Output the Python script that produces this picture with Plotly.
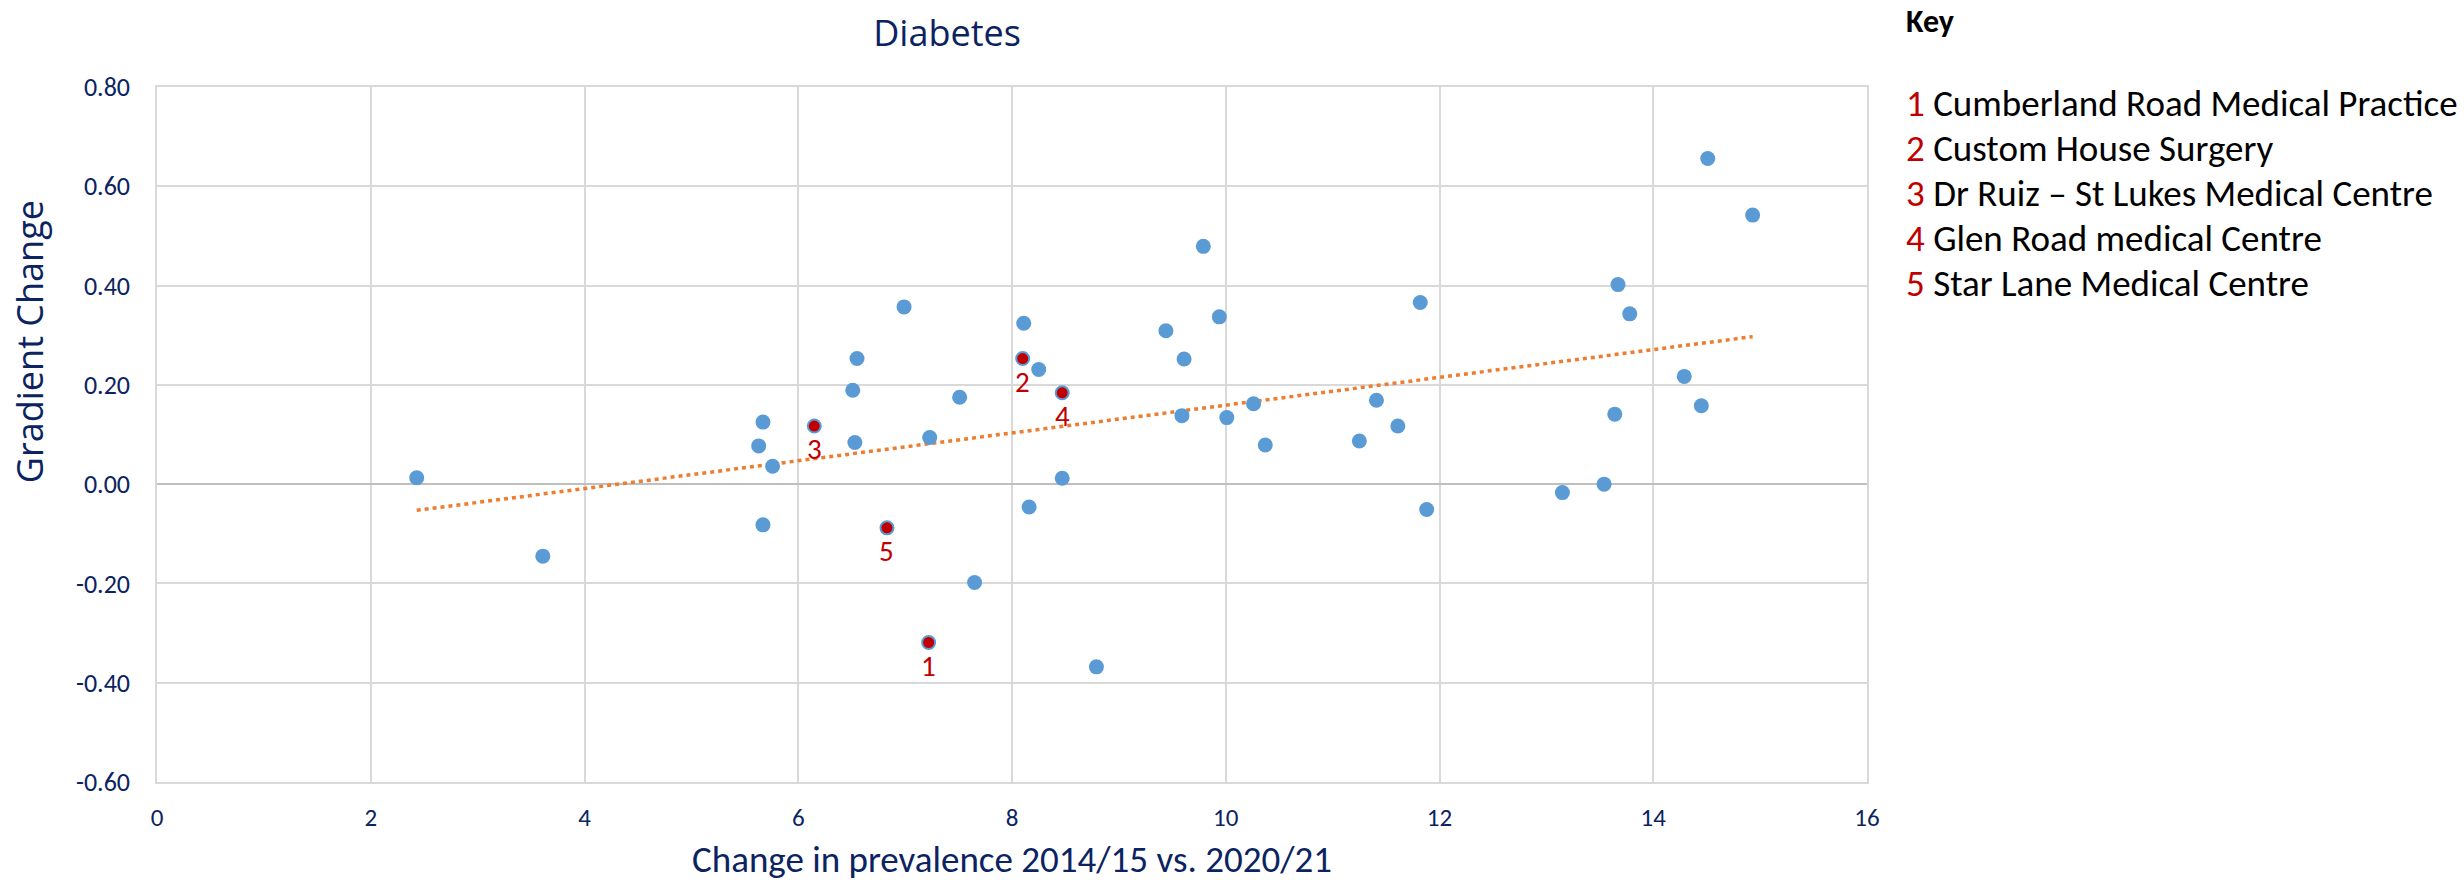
import numpy as np
import plotly.graph_objects as go

# ---------------- data ----------------
blue_x = [2.43, 3.61, 5.63, 5.76, 5.67, 5.67, 6.53, 6.55, 6.51, 6.99,
          8.11, 8.25, 7.51, 7.23, 9.44, 9.79, 9.94, 9.61, 9.59, 10.01,
          10.26, 10.37, 11.25, 11.41, 11.61, 11.82, 13.67, 13.78, 14.51, 14.93,
          14.29, 14.45, 13.64, 8.47, 8.16, 7.65, 8.79, 11.88, 13.15, 13.54]
blue_y = [0.013, -0.145, 0.077, 0.036, -0.082, 0.125, 0.084, 0.253, 0.189, 0.357,
          0.324, 0.231, 0.175, 0.094, 0.309, 0.479, 0.337, 0.252, 0.138, 0.134,
          0.162, 0.079, 0.087, 0.169, 0.117, 0.366, 0.402, 0.343, 0.656, 0.542,
          0.217, 0.158, 0.141, 0.012, -0.046, -0.198, -0.368, -0.051, -0.017, 0.000]

red_x = [7.22, 8.10, 6.15, 8.47, 6.83]
red_y = [-0.319, 0.253, 0.117, 0.184, -0.088]
red_labels = ["1", "2", "3", "4", "5"]
practices = ["Cumberland Road Medical Practice", "Custom House Surgery",
             "Dr Ruiz \u2013 St Lukes Medical Centre", "Glen Road medical Centre",
             "Star Lane Medical Centre"]

x_ticks = [0, 2, 4, 6, 8, 10, 12, 14, 16]
y_ticks = [-0.6, -0.4, -0.2, 0.0, 0.2, 0.4, 0.6, 0.8]
y_tick_labels = ["-0.60", "-0.40", "-0.20", "0.00", "0.20", "0.40", "0.60", "0.80"]

title_text = "Diabetes"
x_title = "Change in prevalence 2014/15 vs. 2020/21"
y_title = "Gradient Change"
key_title = "Key"

# ---------------- styles ----------------
NAVY = "#0B2461"
BLUE = "#5B9BD5"
RED = "#C00000"
ORANGE = "#ED7D31"
GRID = "#D9D9D9"
NARROW = "Carlito, Lato, sans-serif"
SEGOE = "Open Sans, Noto Sans, sans-serif"

W, H = 2464, 883

# trendline (linear least squares over all points)
all_x = np.array(blue_x + red_x)
all_y = np.array(blue_y + red_y)
slope, intercept = np.polyfit(all_x, all_y, 1)
tx = np.array([all_x.min(), all_x.max()])
ty = slope * tx + intercept

fig = go.Figure()
fig.add_trace(go.Scatter(x=tx, y=ty, mode="lines",
                         line=dict(color=ORANGE, width=3.5, dash="4px,4px"),
                         hoverinfo="skip", showlegend=False))
fig.add_trace(go.Scatter(x=blue_x, y=blue_y, mode="markers",
                         marker=dict(color=BLUE, size=15, line=dict(width=0)),
                         showlegend=False))
fig.add_trace(go.Scatter(x=red_x, y=red_y, mode="markers",
                         marker=dict(color=RED, size=13, line=dict(color=BLUE, width=2)),
                         showlegend=False))

annotations = []
for xv, yv, lab in zip(red_x, red_y, red_labels):
    annotations.append(dict(x=xv, y=yv, xref="x", yref="y", text=lab, showarrow=False,
                            yshift=-23, font=dict(family=NARROW, size=29, color=RED)))

# y title
annotations.append(dict(x=-0.0744, y=0.634, xref="paper", yref="paper", text=y_title,
                        textangle=-90, showarrow=False, xanchor="center", yanchor="middle",
                        font=dict(family=SEGOE, size=36, color=NAVY)))
# x title
annotations.append(dict(x=0.5, y=-0.112, xref="paper", yref="paper", text=x_title,
                        showarrow=False, xanchor="center", yanchor="middle",
                        font=dict(family=NARROW, size=37, color=NAVY)))
# key
annotations.append(dict(x=1.0217, y=1.0945, xref="paper", yref="paper",
                        text="<b>" + key_title + "</b>", showarrow=False,
                        xanchor="left", yanchor="middle",
                        font=dict(family=NARROW, size=32, color="black")))
key_rows = [0.9766, 0.9119, 0.8471, 0.7824, 0.7177]
for i, (lab, name) in enumerate(zip(red_labels, practices)):
    annotations.append(dict(x=1.0217, y=key_rows[i], xref="paper", yref="paper",
                            text=f"<span style='color:{RED}'>{lab}</span> {name}",
                            showarrow=False, xanchor="left", yanchor="middle",
                            font=dict(family=NARROW, size=37, color="black")))

fig.update_layout(
    width=W, height=H,
    margin=dict(l=157, r=597, t=87, b=101),
    paper_bgcolor="white", plot_bgcolor="white",
    title=dict(text=title_text, x=947 / W, xanchor="center", xref="container",
               y=1 - 33 / H, yanchor="middle", yref="container",
               font=dict(family=SEGOE, size=36, color=NAVY)),
    annotations=annotations,
    showlegend=False,
)
fig.update_xaxes(range=[0, 16], tickvals=x_ticks, showgrid=True, gridcolor=GRID, gridwidth=1.5,
                 zeroline=False, showline=True, mirror=True, linecolor=GRID, linewidth=1.5,
                 ticks="", ticklabelstandoff=12, automargin=False,
                 tickfont=dict(family=NARROW, size=25, color=NAVY))
fig.update_yaxes(range=[-0.6, 0.8], tickvals=y_ticks, ticktext=y_tick_labels,
                 showgrid=True, gridcolor=GRID, gridwidth=1.5,
                 zeroline=True, zerolinecolor="#BFBFBF", zerolinewidth=2,
                 showline=True, mirror=True, linecolor=GRID, linewidth=1.5,
                 ticks="", ticklabelstandoff=20, automargin=False,
                 tickfont=dict(family=NARROW, size=26, color=NAVY))

# remove the browser's default 8px page margin so the figure fills the window exactly
fig.write_html("out.html", config={"displayModeBar": False},
               post_script="document.body.style.margin='0';")
